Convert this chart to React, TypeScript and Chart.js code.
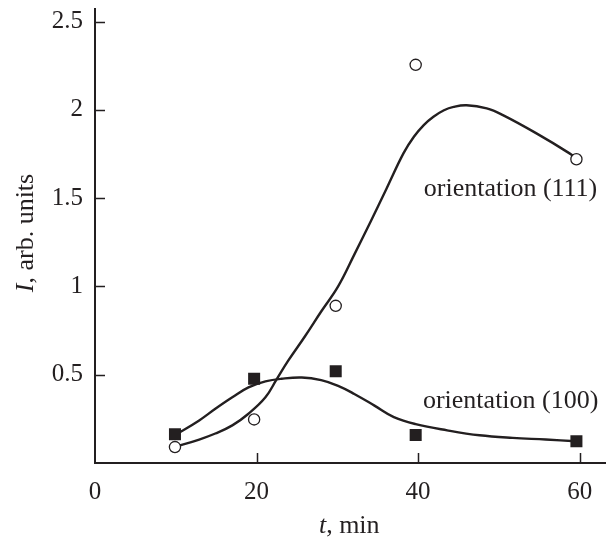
import React, { useEffect, useRef } from "react";
import { Chart, registerables } from "chart.js";

Chart.register(...registerables);

// ---- data ----
const timeMin = [9.9, 19.7, 29.8, 39.7, 59.6];
const intensity111 = [0.09, 0.247, 0.89, 2.255, 1.72];
const intensity100 = [0.163, 0.477, 0.52, 0.159, 0.123];

const curve111X = [9.8, 12.9, 14.9, 17.0, 19.0, 21.1, 22.5, 23.9, 26.0, 28.0, 30.1, 32.1, 34.1, 36.1, 38.2, 39.5, 40.7, 41.9, 43.2, 44.4, 46.0, 48.5, 50.5, 54.6, 58.7, 59.7];
const curve111Y = [0.09, 0.133, 0.167, 0.213, 0.279, 0.372, 0.475, 0.578, 0.718, 0.858, 1.0, 1.18, 1.365, 1.555, 1.755, 1.849, 1.914, 1.961, 1.998, 2.017, 2.026, 2.008, 1.97, 1.868, 1.755, 1.72];

const curve100X = [10.1, 12.9, 14.9, 17.0, 19.0, 21.1, 23.1, 25.6, 28.0, 30.1, 32.1, 34.6, 37.0, 39.7, 43.6, 47.6, 51.7, 55.8, 59.5];
const curve100Y = [0.163, 0.241, 0.307, 0.372, 0.428, 0.462, 0.477, 0.484, 0.469, 0.437, 0.391, 0.325, 0.26, 0.22, 0.185, 0.157, 0.142, 0.133, 0.123];

const xTickValues = [0, 20, 40, 60];
const yTickValues = [0.5, 1, 1.5, 2, 2.5];
const seriesLabels = ["orientation (111)", "orientation (100)"];
const xTitleParts = ["t", ", min"];
const yTitleParts = ["I", ", arb. units"];

const INK = "#231f20";
const FONT = '"Liberation Serif", "Times New Roman", serif';

const toXY = (xs: number[], ys: number[]) => xs.map((x, i) => ({ x, y: ys[i] }));

function drawParts(ctx: CanvasRenderingContext2D, parts: string[], cx: number, baseline: number, size: number) {
  const fonts = parts.map((_, i) => (i === 0 ? `italic ${size}px ${FONT}` : `${size}px ${FONT}`));
  const widths = parts.map((p, i) => {
    ctx.font = fonts[i];
    return ctx.measureText(p).width;
  });
  const total = widths.reduce((a, b) => a + b, 0);
  let x = cx - total / 2;
  ctx.textAlign = "left";
  ctx.textBaseline = "alphabetic";
  parts.forEach((p, i) => {
    ctx.font = fonts[i];
    ctx.fillText(p, x, baseline);
    x += widths[i];
  });
}

const decorPlugin = {
  id: "decor",
  beforeDatasetsDraw(chart: any) {
    const { ctx, scales } = chart;
    const xs = scales.x;
    const ys = scales.y;
    ctx.save();
    ctx.strokeStyle = INK;
    ctx.lineWidth = 1.5;
    ctx.beginPath();
    xTickValues.forEach((v) => {
      if (v === 0) return;
      const px = Math.round(xs.getPixelForValue(v)) + 0.5;
      ctx.moveTo(px, ys.bottom);
      ctx.lineTo(px, ys.bottom - 10);
    });
    yTickValues.forEach((v) => {
      const py = Math.round(ys.getPixelForValue(v)) + 0.5;
      ctx.moveTo(xs.left, py);
      ctx.lineTo(xs.left + 10, py);
    });
    ctx.stroke();
    ctx.restore();
  },
  afterDraw(chart: any) {
    const { ctx, scales } = chart;
    const xs = scales.x;
    const ys = scales.y;
    ctx.save();
    ctx.fillStyle = INK;
    // axis titles
    drawParts(ctx, xTitleParts, (xs.left + xs.right) / 2 - 1, 533, 26);
    ctx.save();
    ctx.translate(33, 233);
    ctx.rotate(-Math.PI / 2);
    drawParts(ctx, yTitleParts, 0, 0, 26);
    ctx.restore();
    // series annotations
    ctx.font = `26px ${FONT}`;
    ctx.textAlign = "left";
    ctx.textBaseline = "alphabetic";
    ctx.fillText(seriesLabels[0], xs.getPixelForValue(40.7), ys.getPixelForValue(1.514));
    ctx.fillText(seriesLabels[1], xs.getPixelForValue(40.6), ys.getPixelForValue(0.314));
    ctx.restore();
  },
};

export default function App() {
  const canvasRef = useRef<HTMLCanvasElement | null>(null);

  useEffect(() => {
    document.body.style.margin = "0";
    const canvas = canvasRef.current;
    if (!canvas) return;
    const chart = new Chart(canvas, {
      type: "scatter",
      data: {
        datasets: [
          {
            label: "111 points",
            data: toXY(timeMin, intensity111),
            showLine: false,
            pointStyle: "circle",
            pointRadius: 5.6,
            pointBorderWidth: 1.3,
            pointBackgroundColor: "#ffffff",
            pointBorderColor: INK,
            order: 0,
          },
          {
            label: "100 points",
            data: toXY(timeMin, intensity100),
            showLine: false,
            pointStyle: "rect",
            pointRadius: 8.5,
            pointBorderWidth: 0,
            pointBackgroundColor: INK,
            pointBorderColor: INK,
            order: 0,
          },
          {
            label: "111 fit",
            data: toXY(curve111X, curve111Y),
            showLine: true,
            tension: 0.4,
            borderColor: INK,
            borderWidth: 2.4,
            pointRadius: 0,
            fill: false,
            order: 1,
          },
          {
            label: "100 fit",
            data: toXY(curve100X, curve100Y),
            showLine: true,
            tension: 0.4,
            borderColor: INK,
            borderWidth: 2.4,
            pointRadius: 0,
            fill: false,
            order: 1,
          },
        ],
      },
      options: {
        responsive: false,
        animation: false,
        events: [],
        layout: { padding: { top: 4, right: 4, left: 0, bottom: 0 } },
        plugins: {
          legend: { display: false },
          tooltip: { enabled: false },
          title: { display: false },
        },
        scales: {
          x: {
            type: "linear",
            min: 0,
            max: 63.2,
            grid: { display: false, drawTicks: false },
            border: { display: true, color: INK, width: 2 },
            ticks: {
              color: INK,
              font: { family: FONT, size: 25 },
              padding: 14,
              maxRotation: 0,
              autoSkip: false,
              callback: (v: any) => String(v),
            },
            afterBuildTicks: (scale: any) => {
              scale.ticks = xTickValues.map((v) => ({ value: v }));
            },
            afterFit: (scale: any) => {
              scale.height = 76;
              scale.paddingLeft = 0;
              scale.paddingRight = 0;
            },
          },
          y: {
            type: "linear",
            min: 0,
            max: 2.574,
            grid: { display: false, drawTicks: false },
            border: { display: true, color: INK, width: 2 },
            ticks: {
              color: INK,
              font: { family: FONT, size: 25 },
              padding: 12,
              autoSkip: false,
              callback: (v: any) => String(v),
            },
            afterBuildTicks: (scale: any) => {
              scale.ticks = yTickValues.map((v) => ({ value: v }));
            },
            afterFit: (scale: any) => {
              scale.width = 95;
              scale.paddingTop = 0;
              scale.paddingBottom = 0;
            },
          },
        },
      },
      plugins: [decorPlugin],
    });
    return () => chart.destroy();
  }, []);

  return (
    <div style={{ width: 614, height: 539, background: "#ffffff" }}>
      <canvas ref={canvasRef} width={614} height={539} style={{ display: "block" }} />
    </div>
  );
}
